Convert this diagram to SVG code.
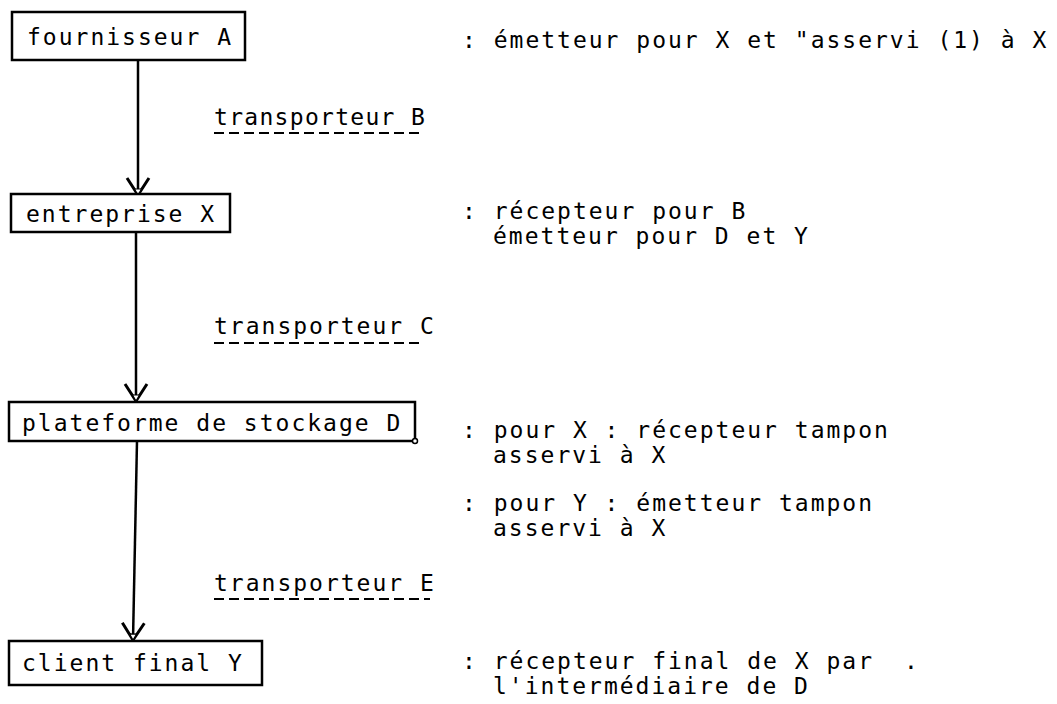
<svg xmlns="http://www.w3.org/2000/svg" width="1057" height="704" viewBox="0 0 1057 704">
  <style>
    .box { fill: #ffffff; stroke: #000000; stroke-width: 2.5; }
    .lbl { font-family: "DejaVu Sans Mono", "Liberation Mono", monospace; font-size: 23px; letter-spacing: 2.0px; fill: #000000; }
    .link { fill: none; stroke: #000000; stroke-width: 2.5; }
    .dash { fill: none; stroke: #000000; stroke-width: 2; stroke-dasharray: 10 5; }
  </style>
  <defs>
    <!-- open chevron head with a small hollow tip, as drawn by the pen plotter -->
    <marker id="chevron" viewBox="-20 -14 24 28" markerWidth="24" markerHeight="28" refX="0" refY="0" orient="auto" markerUnits="userSpaceOnUse">
      <path d="M-17,-11 L0,0 L-17,11" fill="none" stroke="#000000" stroke-width="3" stroke-linejoin="miter"/>
      <path d="M-6,-3.5 L0,0 L-6,3.5 Z" fill="#ffffff" stroke="#000000" stroke-width="1.2"/>
    </marker>
  </defs>

  <!-- connectors -->
  <g id="connectors">
    <line class="link" x1="138" y1="60" x2="138" y2="195" marker-end="url(#chevron)"/>
    <line class="link" x1="136" y1="232" x2="136" y2="401" marker-end="url(#chevron)"/>
    <line class="link" x1="137" y1="441" x2="133" y2="640" marker-end="url(#chevron)"/>

    <g id="label-B">
      <text class="lbl" x="214" y="125" style="letter-spacing:1.3px">transporteur B</text>
      <line class="dash" x1="214" y1="133" x2="422" y2="133"/>
    </g>
    <g id="label-C">
      <text class="lbl" x="214" y="334">transporteur C</text>
      <line class="dash" x1="214" y1="343" x2="424" y2="343"/>
    </g>
    <g id="label-E">
      <text class="lbl" x="214" y="591">transporteur E</text>
      <line class="dash" x1="214" y1="599" x2="430" y2="599"/>
    </g>
  </g>

  <!-- actors -->
  <g id="node-A">
    <rect class="box" x="12" y="12" width="233" height="48"/>
    <text class="lbl" x="27" y="45">fournisseur A</text>
  </g>
  <g id="node-X">
    <rect class="box" x="11" y="194" width="219" height="38"/>
    <text class="lbl" x="26" y="222">entreprise X</text>
  </g>
  <g id="node-D">
    <rect class="box" x="9" y="402" width="406" height="39"/>
    <circle cx="415" cy="441" r="2.5" fill="#ffffff" stroke="#000000" stroke-width="1.5"/>
    <text class="lbl" x="22" y="431">plateforme de stockage D</text>
  </g>
  <g id="node-Y">
    <rect class="box" x="9" y="641" width="253" height="44"/>
    <text class="lbl" x="22" y="671">client final Y</text>
  </g>

  <!-- roles -->
  <g id="roles">
    <text class="lbl" x="462" y="48">: émetteur pour X et "asservi (1) à X</text>
    <text class="lbl" x="462" y="219">: récepteur pour B</text>
    <text class="lbl" x="493" y="244">émetteur pour D et Y</text>
    <text class="lbl" x="462" y="438">: pour X : récepteur tampon</text>
    <text class="lbl" x="493" y="463">asservi à X</text>
    <text class="lbl" x="462" y="511">: pour Y : émetteur tampon</text>
    <text class="lbl" x="493" y="536">asservi à X</text>
    <text class="lbl" x="462" y="669">: récepteur final de X par</text>
    <text class="lbl" x="904" y="669">.</text>
    <text class="lbl" x="493" y="694">l'intermédiaire de D</text>
  </g>
</svg>
